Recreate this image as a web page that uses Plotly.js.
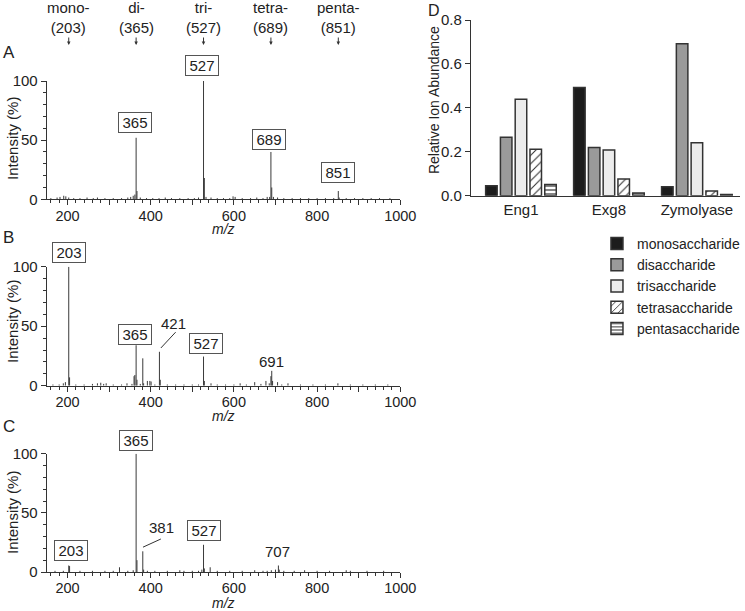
<!DOCTYPE html>
<html>
<head>
<meta charset="utf-8">
<script src="https://cdn.plot.ly/plotly-3.0.1.min.js"></script>
<style>html,body{margin:0;padding:0;background:#fff;}#chart{width:745px;height:611px;}</style>
</head>
<body>
<div id="chart"></div>
<script>
// ---- Data: spectrum A (Eng1) ----
const mzA  = [160,175,182,191,196,203,215,230,247,262,272,290,310,330,345,352,358,362,365,367,375,390,405,420,435,450,470,490,505,515,527,529,533,545,560,575,590,598,603,620,640,655,670,680,686,689,691,695,705,720,740,760,780,800,820,840,851,853,870,890,910,930,950,975];
const intA = [1,1.5,2,3,2.5,1.5,1,1,1.5,1,1.5,1,1,1,1.5,2,3,4,52,7,1.5,1,1,1,1.5,1,1,1,1,1.5,100,18,2,1.5,1,1,1,2.5,2,1,1,1.5,1,2,2,40,10,2,1.5,1,1,1,1,1,1,1,7,1.5,1,1,1,1,1,1];
// ---- Data: spectrum B (Exg8) ----
const mzB  = [165,180,190,195,203,205,220,240,260,272,280,287,293,310,330,343,355,360,362,365,367,375,381,383,392,398,401,410,421,423,440,460,480,500,515,527,529,545,560,580,600,615,630,650,665,677,685,689,691,693,705,715,730,760,790,820,850,880,910,940,970];
const intB = [1,1,2,3,100,7,1,1,1.5,2,2.5,1.5,2,1,1,2,1.5,8,9,34,5,1.5,23,2,4,4,3.5,1,28.5,5,1,1,1,1,1,24.5,4,2,1,1,1,2,1,3,1.5,4,2,8,12.5,4,3,1,2,1,1,1,2,1,1,1,1];
// ---- Data: spectrum C (Zymolyase) ----
const mzC  = [170,190,203,205,230,260,290,310,325,345,358,365,367,381,383,392,410,440,470,480,500,515,523,527,529,543,560,590,620,650,670,680,690,700,707,709,720,745,770,800,830,870,880,920,960];
const intC = [1,1,5.5,5,1,1,1,1,4,1,1.5,100,10,17.5,2,1,1,1,1.5,1,1,1,2,23,3,4,1,1,1,1.5,1,1,1.5,2,5.5,2,1,1,1.5,1,1,1.5,1,1,1];
// ---- Data: panel D ----
const enzymes = ['Eng1','Exg8','Zymolyase'];
const seriesNames = ['monosaccharide','disaccharide','trisaccharide','tetrasaccharide','pentasaccharide'];
const mono  = [0.045,0.493,0.041];
const di    = [0.266,0.219,0.692];
const tri   = [0.439,0.208,0.241];
const tetra = [0.211,0.076,0.021];
const penta = [0.051,0.012,0.006];
// ---- Tick labels ----
const mzTicks = [200,300,400,500,600,700,800,900,1000];
const mzTickText = ['200','','400','','600','','800','','1000'];
const intTicks = [0,50,100];

const W = 745, H = 611;
const FONT = 'Liberation Sans, Arial, Helvetica, sans-serif';
const TXT = '#222';
const AX = '#333';
const py = p => 1 - p / H;
const px = p => p / W;

function sticks(mz, inten, xa, ya) {
  const x = [], y = [];
  for (let i = 0; i < mz.length; i++) { x.push(mz[i], mz[i], null); y.push(0, inten[i], null); }
  return {type:'scatter', mode:'lines', x, y, xaxis:xa, yaxis:ya, showlegend:false, hoverinfo:'skip',
          line:{color:'#3a3a3a', width:1}, cliponaxis:false};
}

const traces = [
  sticks(mzA, intA, 'x', 'y'),
  sticks(mzB, intB, 'x2', 'y2'),
  sticks(mzC, intC, 'x3', 'y3')
];

const vals = [mono, di, tri, tetra, penta];
const fills = [
  {color:'#1c1c1c'},
  {color:'#9a9a9a'},
  {color:'#ececec'},
  {color:'#ffffff', pattern:{shape:'/', fgcolor:'#333', bgcolor:'#ffffff', size:6, solidity:0.18}},
  {color:'#ffffff', pattern:{shape:'-', fgcolor:'#333', bgcolor:'#ffffff', size:4, solidity:0.3}}
];
for (let s = 0; s < 5; s++) {
  traces.push({type:'bar', name:seriesNames[s], x:enzymes, y:vals[s], xaxis:'x4', yaxis:'y4',
    marker:Object.assign({line:{color:'#333', width:1.5}}, fills[s]), hoverinfo:'skip'});
}

const xDom = [px(47), px(403)];
function specX(anchor) {
  return {domain:xDom, anchor, range:[150,1000], tickmode:'array', tickvals:mzTicks, ticktext:mzTickText,
    ticks:'outside', ticklen:5, tickwidth:1, tickcolor:AX, showline:true, linecolor:AX, linewidth:1,
    showgrid:false, zeroline:false, tickfont:{size:14.5, color:TXT}, ticklabelstandoff:-2,
    minor:{tickmode:'linear', tick0:0, dtick:20, ticks:'outside', ticklen:3, tickcolor:AX, tickwidth:1, showgrid:false}};
}
function specY(anchor, top, bot) {
  return {domain:[py(bot), py(top)], anchor, range:[0,100], tickmode:'array', tickvals:intTicks,
    ticks:'outside', ticklen:5, tickwidth:1, tickcolor:AX, showline:true, linecolor:AX, linewidth:1,
    showgrid:false, zeroline:false, tickfont:{size:15, color:TXT},
    minor:{tickmode:'linear', tick0:0, dtick:10, ticks:'outside', ticklen:3, tickcolor:AX, tickwidth:1, showgrid:false}};
}

const ann = [];
function txt(text, x, y, size, extra) {
  ann.push(Object.assign({text, x:px(x), y:py(y), xref:'paper', yref:'paper', xanchor:'center', yanchor:'middle',
    showarrow:false, font:{family:FONT, size:size||15, color:TXT}}, extra||{}));
}
function box(text, x, y) {
  txt(text, x, y, 15, {bordercolor:'#555', borderwidth:1, borderpad:1, bgcolor:'#fff', width:30, height:17});
}
// top labels
const topLab = [['mono-',203],['di-',365],['tri-',527],['tetra-',689],['penta-',851]];
topLab.forEach(([t,m]) => {
  ann.push({text:t + '<br>(' + m + ')', x:m, y:py(18), xref:'x', yref:'paper', xanchor:'center', yanchor:'middle',
    showarrow:false, font:{family:FONT, size:15, color:TXT}});
  ann.push({x:m, y:py(45), xref:'x', yref:'paper', ax:0, ay:-9, showarrow:true, arrowhead:2, arrowsize:0.7, arrowwidth:1, arrowcolor:'#333', text:''});
});
// panel letters
txt('A', 9, 52, 17);
txt('B', 9, 237, 17);
txt('C', 9, 426, 17);
txt('D', 437, 11, 16);
// y titles
txt('Intensity (%)', 12, 138, 15, {textangle:-90});
txt('Intensity (%)', 12, 321, 15, {textangle:-90});
txt('Intensity (%)', 12, 512, 15, {textangle:-90});
txt('Relative Ion Abundance', 437, 100, 14, {textangle:-90});
// x titles
txt('<i>m/z</i>', 225, 229, 14);
txt('<i>m/z</i>', 225, 416, 14);
txt('<i>m/z</i>', 225, 603, 14);
// peak labels A
box('365', 136, 123);
box('527', 203.5, 65);
box('689', 271, 139);
box('851', 340, 173);
// B
box('203', 69, 252);
box('365', 136, 334);
box('527', 207.5, 343);
txt('421', 175, 323, 15);
txt('691', 273, 361, 15);
// C
box('365', 137, 440);
box('527', 205, 530);
box('203', 71, 550);
txt('381', 163, 527, 15);
txt('707', 279, 551, 15);

const shapes = [
  {type:'line', xref:'x2', yref:'y2', x0:424.5, y0:31.7, x1:460, y1:45, line:{color:'#333', width:1}},
  {type:'line', xref:'x3', yref:'y3', x0:381.5, y0:21, x1:424.5, y1:27.9, line:{color:'#333', width:1}}
];

const layout = {
  width:W, height:H, margin:{l:0,r:0,t:0,b:0}, paper_bgcolor:'#fff', plot_bgcolor:'rgba(0,0,0,0)',
  font:{family:FONT, color:TXT, size:15},
  showlegend:true,
  legend:{x:px(601), y:py(228), xanchor:'left', yanchor:'top', font:{size:14, color:TXT}, bgcolor:'rgba(0,0,0,0)', itemwidth:30, tracegroupgap:0},
  barmode:'group', bargap:0.16, bargroupgap:0.22,
  xaxis:specX('y'), yaxis:specY('x', 81, 199.3),
  xaxis2:specX('y2'), yaxis2:specY('x2', 266.7, 385.7),
  xaxis3:specX('y3'), yaxis3:specY('x3', 453.7, 572),
  xaxis4:{domain:[px(474),1], anchor:'y4', type:'category', range:[-0.57,2.49], showline:true, linecolor:AX, linewidth:1,
          ticks:'', showgrid:false, zeroline:false, tickfont:{size:15, color:TXT}},
  yaxis4:{domain:[py(195.7), py(20)], anchor:'x4', range:[0,0.8], dtick:0.2, tick0:0, tickformat:'.1f', ticks:'outside', ticklen:5,
          tickcolor:AX, showline:true, linecolor:AX, linewidth:1, showgrid:false, zeroline:false, tickfont:{size:15, color:TXT}},
  annotations:ann, shapes
};
Plotly.newPlot('chart', traces, layout, {staticPlot:true, displayModeBar:false});
</script>
</body>
</html>
